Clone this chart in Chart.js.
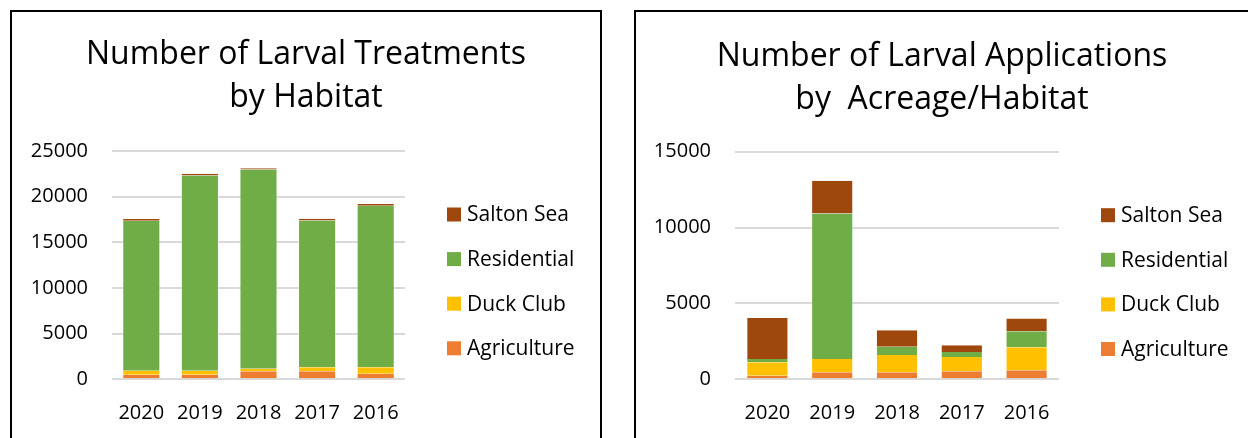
<!DOCTYPE html>
<html>
<head>
<meta charset="utf-8">
<script src="https://cdn.jsdelivr.net/npm/chart.js@4.4.1/dist/chart.umd.min.js"></script>
<style>
  html, body { margin: 0; padding: 0; background: #fff; overflow: hidden; }
  body { width: 1248px; height: 438px; position: relative; }
  .panel { position: absolute; top: 10px; height: 520px; border: 2px solid #000; background: #fff; }
  #panelLeft { left: 10px; width: 588px; }
  #panelRight { left: 634px; width: 700px; }
  canvas { position: absolute; left: 0; top: 0; }
</style>
</head>
<body>
<div class="panel" id="panelLeft"><canvas id="treatChart" width="588" height="426"></canvas></div>
<div class="panel" id="panelRight"><canvas id="acreChart" width="612" height="426"></canvas></div>
<script>
const years = ['2020', '2019', '2018', '2017', '2016'];
const habitats = ['Agriculture', 'Duck Club', 'Residential', 'Salton Sea'];
const habitatColors = ['#ED7D31', '#FFC000', '#70AD47', '#9E480E'];

// number of larval treatments
const treatAgriculture = [500, 500, 870, 870, 610];
const treatDuckClub = [440, 440, 290, 440, 700];
const treatResidential = [16430, 21370, 21810, 16090, 17700];
const treatSaltonSea = [190, 190, 150, 190, 180];
const treatTicks = [0, 5000, 10000, 15000, 20000, 25000];

// number of larval applications by acreage
const acreAgriculture = [240, 460, 460, 530, 590];
const acreDuckClub = [880, 880, 1140, 940, 1530];
const acreResidential = [220, 9590, 550, 330, 1050];
const acreSaltonSea = [2700, 2150, 1080, 440, 840];
const acreTicks = [0, 5000, 10000, 15000];

const FONT = "'Open Sans', 'DejaVu Sans', sans-serif";

// fixed-width box on the right of the plot, holding the legend
const sideLegend = {
  id: 'sideLegend',
  beforeInit(chart, args, opts) {
    const box = {
      position: 'right',
      weight: 0,
      fullSize: false,
      options: {},
      left: 0, top: 0, right: 0, bottom: 0, width: 0, height: 0,
      isHorizontal() { return false; },
      update(maxWidth, maxHeight) {
        this.width = opts.width;
        this.height = maxHeight;
      },
      draw() {
        const ctx = chart.ctx;
        const area = chart.chartArea;
        const sets = chart.data.datasets;
        ctx.save();
        ctx.font = '21px ' + FONT;
        ctx.textBaseline = 'middle';
        ctx.textAlign = 'left';
        for (let i = 0; i < sets.length; i++) {
          const ds = sets[sets.length - 1 - i];
          const cy = area.top + opts.firstRow + i * opts.rowGap;
          const x = area.right + opts.offset;
          ctx.fillStyle = ds.backgroundColor;
          ctx.fillRect(x, cy - 7, 14, 14);
          ctx.fillStyle = '#000';
          ctx.fillText(ds.label, x + 20, cy + 1);
        }
        ctx.restore();
      }
    };
    Chart.layouts.addBox(chart, box);
  }
};

function makeDatasets(series) {
  return habitats.map((name, i) => ({
    label: name,
    data: series[i],
    backgroundColor: habitatColors[i],
    borderColor: 'rgba(255,255,255,0.45)',
    borderWidth: { left: 1, right: 1, top: 0, bottom: 0 },
    borderSkipped: false,
    categoryPercentage: 1,
    barPercentage: 0.65
  }));
}

function makeChart(canvasId, title, series, ticks, cfg) {
  return new Chart(document.getElementById(canvasId), {
    type: 'bar',
    data: { labels: years, datasets: makeDatasets(series) },
    plugins: [sideLegend],
    options: {
      responsive: false,
      animation: false,
      devicePixelRatio: 1,
      layout: { padding: 0 },
      plugins: {
        legend: { display: false },
        tooltip: { enabled: false },
        title: {
          display: true,
          text: title,
          color: '#000',
          font: { family: FONT, size: 32, weight: 'normal', lineHeight: 43 / 32 },
          padding: { top: cfg.titleTop, bottom: cfg.titleBottom }
        },
        sideLegend: { width: cfg.legendWidth, offset: 42, firstRow: 63.5, rowGap: 44.6 }
      },
      scales: {
        x: {
          stacked: true,
          grid: { display: false },
          border: { display: false },
          ticks: { color: '#000', font: { family: FONT, size: 20 }, padding: 14, maxRotation: 0 },
          afterFit(scale) { scale.height = 58.7; }
        },
        y: {
          stacked: true,
          min: 0,
          max: ticks[ticks.length - 1],
          afterBuildTicks(scale) { scale.ticks = ticks.map(v => ({ value: v })); },
          grid: { color: '#d9d9d9', lineWidth: 2, drawTicks: false },
          border: { display: false },
          ticks: {
            color: '#000',
            font: { family: FONT, size: 20 },
            padding: 24,
            callback: v => String(v)
          },
          afterFit(scale) { scale.width = cfg.axisWidth; }
        }
      }
    }
  });
}

makeChart('treatChart',
  ['Number of Larval Treatments', 'by Habitat'],
  [treatAgriculture, treatDuckClub, treatResidential, treatSaltonSea],
  treatTicks,
  { titleTop: 21.3, titleBottom: 31.7, legendWidth: 195, axisWidth: 100 });

makeChart('acreChart',
  ['Number of Larval Applications', 'by  Acreage/Habitat'],
  [acreAgriculture, acreDuckClub, acreResidential, acreSaltonSea],
  acreTicks,
  { titleTop: 23.5, titleBottom: 30.2, legendWidth: 189, axisWidth: 99 });
</script>
</body>
</html>
